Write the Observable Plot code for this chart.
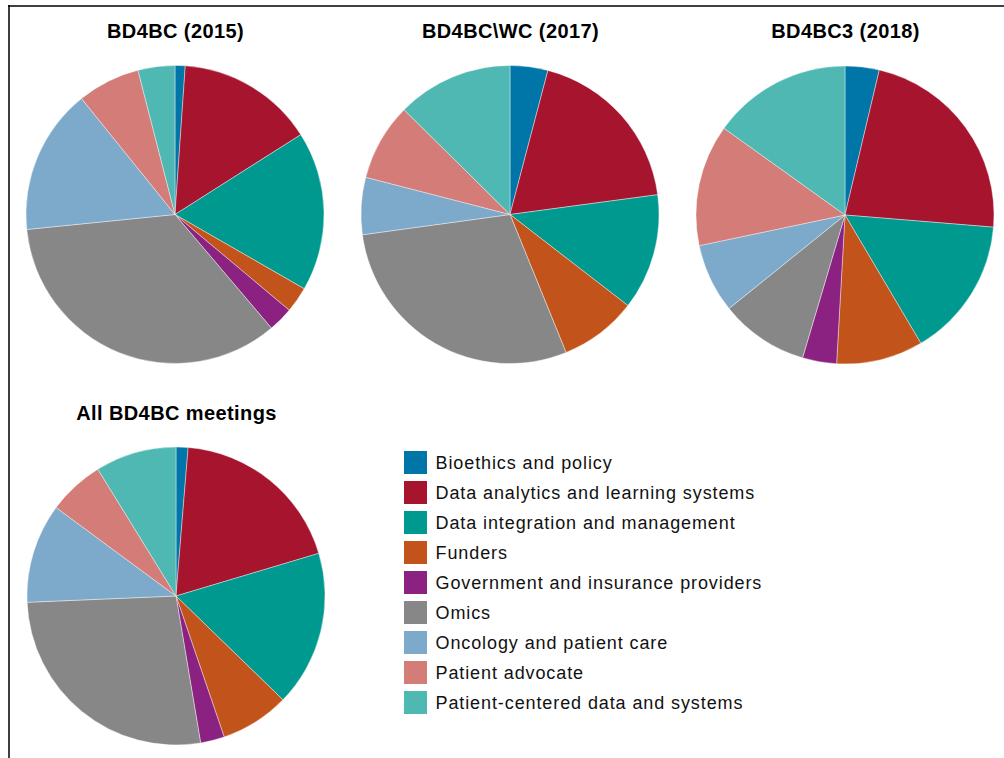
<!DOCTYPE html>
<html>
<head>
<meta charset="utf-8">
<script src="https://cdn.jsdelivr.net/npm/d3@7"></script>
<script src="https://cdn.jsdelivr.net/npm/@observablehq/plot@0.6"></script>
<style>
  html, body { margin: 0; padding: 0; background: #fff; }
  #chart svg { display: block; }
</style>
</head>
<body>
<div id="chart"></div>
<script>
// ---- data ----
const categories = [
  "Bioethics and policy",
  "Data analytics and learning systems",
  "Data integration and management",
  "Funders",
  "Government and insurance providers",
  "Omics",
  "Oncology and patient care",
  "Patient advocate",
  "Patient-centered data and systems"
];
const meetings = ["BD4BC (2015)", "BD4BC\\WC (2017)", "BD4BC3 (2018)", "All BD4BC meetings"];
// share of participants (%) per category, per meeting
const share2015 = [1.1, 14.9, 17.3, 2.8, 2.7, 34.6, 15.8, 6.8, 4.0];
const share2017 = [4.1, 18.8, 12.6, 8.4, 0.0, 29.0, 6.2, 8.4, 12.6];
const share2018 = [3.7, 22.6, 15.2, 9.4, 3.7, 9.6, 7.5, 13.2, 15.1];
const shareAll  = [1.3, 19.1, 16.9, 7.5, 2.6, 27.0, 10.8, 6.1, 8.8];
const shares = [share2015, share2017, share2018, shareAll];

// ---- styles / layout ----
const colors = ["#0075a8", "#a6142e", "#00998f", "#c1531b", "#8b2282", "#878787", "#7da9cb", "#d47c78", "#4fb8b2"];
const W = 1004, H = 758;
const pieLayout = [
  {cx: 175, cy: 214.5, titleY: 37},
  {cx: 510, cy: 214.5, titleY: 37},
  {cx: 845, cy: 215, titleY: 37},
  {cx: 176, cy: 596, titleY: 419}
];
const R = 149;
const legendX = 404, legendY = 451, legendStep = 30, swatch = 23;

// long table
const slices = [];
meetings.forEach((m, mi) => {
  categories.forEach((c, ci) => slices.push({meeting: m, mi, category: c, value: shares[mi][ci]}));
});

function pies(index, scales, values, dimensions) {
  const g = d3.create("svg:g").attr("aria-label", "pies");
  meetings.forEach((m, mi) => {
    const rows = slices.filter(d => d.mi === mi);
    const arcs = d3.pie().sort(null).value(d => d.value)(rows);
    const arc = d3.arc().innerRadius(0).outerRadius(R);
    const L = pieLayout[mi];
    const cx = scales.x(L.cx), cy = scales.y(L.cy);
    g.append("g")
      .attr("transform", `translate(${cx},${cy})`)
      .selectAll("path")
      .data(arcs.filter(a => a.data.value > 0))
      .join("path")
      .attr("d", arc)
      .attr("fill", a => scales.color(a.data.category))
      .attr("stroke", "#fff")
      .attr("stroke-width", 0.4);
  });
  return g.node();
}

const chart = Plot.plot({
  width: W,
  height: H,
  margin: 0,
  x: {domain: [0, W], range: [0, W], axis: null},
  y: {domain: [0, H], range: [0, H], axis: null},
  color: {domain: categories, range: colors},
  style: {fontFamily: "'Liberation Sans', Arial, Helvetica, sans-serif", background: "#fff"},
  marks: [
    Plot.ruleY([5.5], {x1: 8, x2: W, stroke: "#000", strokeWidth: 1.5}),
    Plot.ruleX([8.5], {y1: 5, y2: H, stroke: "#000", strokeWidth: 1.5}),
    pies,
    Plot.text(meetings, {
      x: (d, i) => pieLayout[i].cx,
      y: (d, i) => pieLayout[i].titleY,
      text: d => d,
      fontSize: 20,
      fontWeight: "bold",
      fill: "#000",
      lineAnchor: "bottom"
    }),
    Plot.rect(categories, {
      x1: legendX, x2: legendX + swatch,
      y1: (d, i) => legendY + legendStep * i,
      y2: (d, i) => legendY + legendStep * i + swatch,
      fill: d => d
    }),
    Plot.text(categories, {
      x: legendX + 31,
      y: (d, i) => legendY + legendStep * i + 11.5,
      text: d => d,
      textAnchor: "start",
      fontSize: 18,
      fill: "#111"
    })
  ]
});
// spacing tweaks for the text marks
d3.select(chart).selectAll("text").each(function() {
  const t = this.textContent;
  if (categories.includes(t)) this.style.letterSpacing = "0.9px";
  else if (meetings.includes(t)) this.style.letterSpacing = "0.4px";
});
document.getElementById("chart").append(chart);
</script>
</body>
</html>
